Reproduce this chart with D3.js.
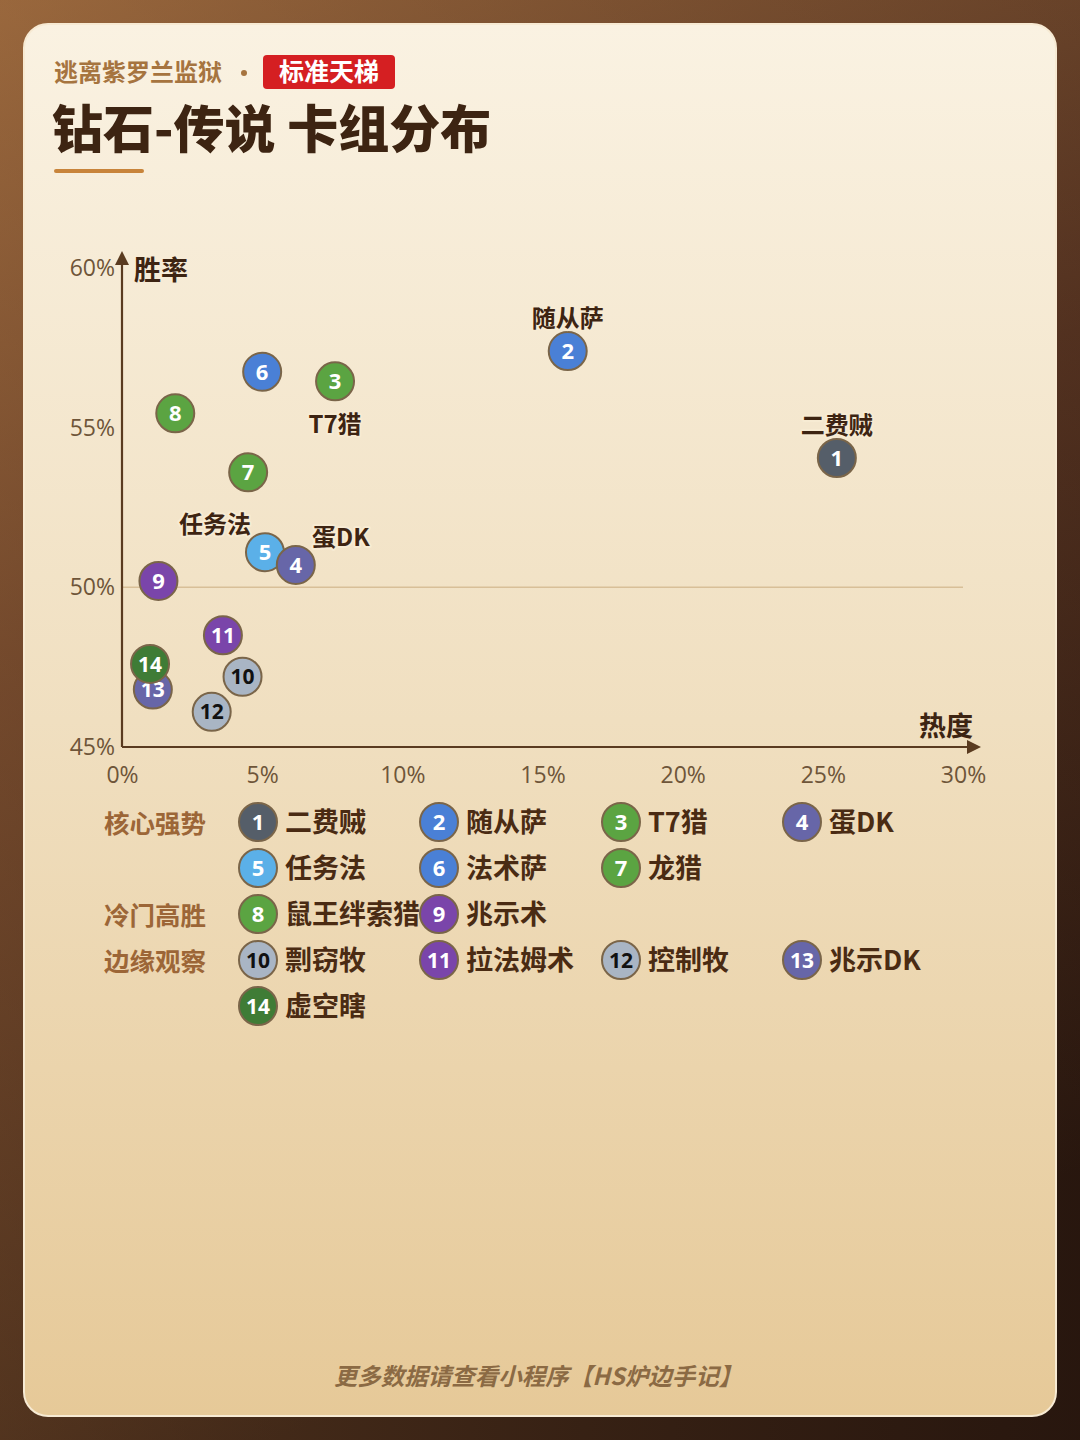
<!DOCTYPE html>
<html><head><meta charset="utf-8">
<script src="https://cdn.jsdelivr.net/npm/d3@7/dist/d3.min.js"></script>
<style>
html,body{margin:0;padding:0;background:#3a2416;}
svg{display:block;}
</style></head>
<body>
<div id="chart"></div>
<script>
// ---------- data ----------
const deckIds    = [1,2,3,4,5,6,7,8,9,10,11,12,13,14];
const deckNames  = ["二费贼","随从萨","T7猎","蛋DK","任务法","法术萨","龙猎","鼠王绊索猎","兆示术","剽窃牧","拉法姆术","控制牧","兆示DK","虚空瞎"];
const popularity = [25.5,15.9,7.6,6.2,5.1,5.0,4.5,1.9,1.3,4.3,3.6,3.2,1.1,1.0];   // 热度 %
const winRate    = [54.05,57.4,56.45,50.7,51.1,56.75,53.6,55.45,50.2,47.2,48.5,46.1,46.8,47.6]; // 胜率 %
const deckTier   = [0,0,0,0,0,0,0,1,1,2,2,2,2,2];
const tierLabels = ["核心强势","冷门高胜","边缘观察"];
const xTicks     = [0,5,10,15,20,25,30];
const yTicks     = [45,50,55,60];
const labeledIds = [1,2,3,4,5];
const labelSide  = ["top","top","bottom","topright","topleft"];

// ---------- styles ----------
const classColor = {
  1:"#555e69",2:"#4a80d6",3:"#5ba442",4:"#6766a8",5:"#5bb0e8",6:"#4a80d6",7:"#5ba442",
  8:"#5ba442",9:"#7a45aa",10:"#a9b5c4",11:"#7a45aa",12:"#a9b5c4",13:"#6766a8",14:"#3f7c36"
};
const darkText = new Set([10,12]);
const FONT = "'Noto Sans CJK SC','Noto Sans',sans-serif";
const NUMFONT = "'Open Sans','Noto Sans',sans-serif";

const W=1080,H=1440;
const svg = d3.select("#chart").append("svg").attr("width",W).attr("height",H);
const defs = svg.append("defs");

const bg = defs.append("linearGradient").attr("id","bg").attr("x1","0").attr("y1","0").attr("x2","0.25").attr("y2","1");
bg.append("stop").attr("offset","0").attr("stop-color","#96653c");
bg.append("stop").attr("offset","0.45").attr("stop-color","#5a3522");
bg.append("stop").attr("offset","1").attr("stop-color","#22120b");
const bg2 = defs.append("linearGradient").attr("id","bg2").attr("x1","0").attr("y1","0").attr("x2","1").attr("y2","0");
bg2.append("stop").attr("offset","0").attr("stop-color","#a06c3e").attr("stop-opacity",0.35);
bg2.append("stop").attr("offset","1").attr("stop-color","#3a2418").attr("stop-opacity",0.25);

const card = defs.append("linearGradient").attr("id","card").attr("x1","0").attr("y1","0").attr("x2","0").attr("y2","1");
card.append("stop").attr("offset","0").attr("stop-color","#faf2e2");
card.append("stop").attr("offset","0.5").attr("stop-color","#f0dfc0");
card.append("stop").attr("offset","1").attr("stop-color","#e6c998");

defs.append("marker").attr("id","arrow").attr("viewBox","0 0 10 10")
  .attr("refX",5).attr("refY",5).attr("markerWidth",14).attr("markerHeight",14)
  .attr("orient","auto").attr("markerUnits","userSpaceOnUse")
  .append("path").attr("d","M0,0 L10,5 L0,10 Z").attr("fill","#5a3b20");

svg.append("rect").attr("width",W).attr("height",H).attr("fill","url(#bg)");
svg.append("rect").attr("width",W).attr("height",H).attr("fill","url(#bg2)");
svg.append("rect").attr("x",24).attr("y",24).attr("width",1032).attr("height",1392).attr("rx",24)
  .attr("fill","url(#card)").attr("stroke","#f7ead3").attr("stroke-width",2);

// ---------- header ----------
svg.append("text").attr("x",54).attr("y",81).attr("font-family",FONT).attr("font-weight",700)
  .attr("font-size",24).attr("fill","#a6743f").text("逃离紫罗兰监狱");
svg.append("circle").attr("cx",244).attr("cy",73).attr("r",3).attr("fill","#a6743f");
svg.append("rect").attr("x",263).attr("y",55).attr("width",132).attr("height",34).attr("rx",4).attr("fill","#d51f22");
svg.append("text").attr("x",329).attr("y",81).attr("text-anchor","middle").attr("font-family",FONT)
  .attr("font-weight",700).attr("font-size",25).attr("fill","#ffffff").text("标准天梯");
svg.append("text").attr("x",52).attr("y",148).attr("font-family",FONT).attr("font-weight",900)
  .attr("font-size",51).attr("fill","#3d2412").text("钻石-传说 卡组分布");
svg.append("rect").attr("x",54).attr("y",169).attr("width",90).attr("height",4).attr("rx",2).attr("fill","#c8843a");

// ---------- scales ----------
const x = d3.scaleLinear().domain([0,30]).range([122,963]);
const y = d3.scaleLinear().domain([45,60]).range([747,268]);

// reference line at 50%
svg.append("line").attr("x1",x(0)).attr("x2",x(30)).attr("y1",y(50)).attr("y2",y(50))
  .attr("stroke","#d8bf98").attr("stroke-width",1.5);

// axes
const xAxis = d3.axisBottom(x).tickValues(xTicks).tickFormat(d=>d+"%").tickSize(0).tickPadding(20);
const gx = svg.append("g").attr("transform",`translate(0,${y(45)})`).call(xAxis);
gx.select(".domain").remove();
gx.selectAll("text").attr("font-family",NUMFONT).attr("font-size",23).attr("fill","#6e5539");

const yAxis = d3.axisLeft(y).tickValues(yTicks).tickFormat(d=>d+"%").tickSize(0).tickPadding(7);
const gy = svg.append("g").attr("transform",`translate(${x(0)},0)`).call(yAxis);
gy.select(".domain").remove();
gy.selectAll("text").attr("font-family",NUMFONT).attr("font-size",23).attr("fill","#6e5539");

svg.append("line").attr("x1",x(0)).attr("y1",y(45)).attr("x2",x(0)+852).attr("y2",y(45))
  .attr("stroke","#5a3b20").attr("stroke-width",2.2).attr("marker-end","url(#arrow)");
svg.append("line").attr("x1",x(0)).attr("y1",y(45)).attr("x2",x(0)).attr("y2",y(60)-10)
  .attr("stroke","#5a3b20").attr("stroke-width",2.2).attr("marker-end","url(#arrow)");

svg.append("text").attr("x",134).attr("y",280).attr("font-family",FONT).attr("font-weight",700)
  .attr("font-size",27).attr("fill","#3d2412").text("胜率");
svg.append("text").attr("x",973).attr("y",736).attr("text-anchor","end").attr("font-family",FONT).attr("font-weight",700)
  .attr("font-size",27).attr("fill","#3d2412").text("热度");

// ---------- points ----------
const pts = deckIds.map((id,i)=>({id,name:deckNames[i],px:popularity[i],wr:winRate[i]}));
const drawOrder = [1,2,3,6,8,7,5,4,9,11,10,12,13,14];
const R = 19;
const gp = svg.append("g");
drawOrder.forEach(id=>{
  const d = pts.find(p=>p.id===id);
  const g = gp.append("g").attr("transform",`translate(${x(d.px)},${y(d.wr)})`);
  g.append("circle").attr("r",R).attr("fill",classColor[id]).attr("stroke","#7a6549").attr("stroke-width",2);
  g.append("text").attr("text-anchor","middle").attr("dy","0.36em")
    .attr("font-family",NUMFONT).attr("font-weight",700).attr("font-size",id>=10?21:22)
    .attr("fill",darkText.has(id)?"#111111":"#ffffff").text(id);
});

// labels
const offs = {top:[0,-33],bottom:[0,43],topright:[45,-28],topleft:[-50,-28]};
labeledIds.forEach((id,k)=>{
  const d = pts.find(p=>p.id===id);
  const o = offs[labelSide[k]];
  svg.append("text").attr("x",x(d.px)+o[0]).attr("y",y(d.wr)+o[1]).attr("dy","0.36em")
    .attr("text-anchor","middle").attr("font-family",FONT).attr("font-weight",700).attr("font-size",24)
    .attr("fill","#3d2412").attr("stroke","#f7ebd3").attr("stroke-width",4).attr("paint-order","stroke")
    .attr("stroke-linejoin","round").text(d.name);
});

// ---------- legend ----------
const colX = [258,439,621,802];
const rowH = 46;
let rowY = 822;
const lg = svg.append("g");
tierLabels.forEach((lab,t)=>{
  const items = pts.filter((p,i)=>deckTier[i]===t);
  lg.append("text").attr("x",104).attr("y",rowY+2).attr("dy","0.36em").attr("font-family",FONT)
    .attr("font-weight",700).attr("font-size",25.5).attr("fill","#9c6637").text(lab);
  items.forEach((d,j)=>{
    const cx = colX[j%4], cy = rowY + Math.floor(j/4)*rowH;
    lg.append("circle").attr("cx",cx).attr("cy",cy).attr("r",R).attr("fill",classColor[d.id])
      .attr("stroke","#7a6549").attr("stroke-width",2);
    lg.append("text").attr("x",cx).attr("y",cy).attr("dy","0.36em").attr("text-anchor","middle")
      .attr("font-family",NUMFONT).attr("font-weight",700).attr("font-size",d.id>=10?21:22)
      .attr("fill",darkText.has(d.id)?"#111111":"#ffffff").text(d.id);
    lg.append("text").attr("x",cx+27).attr("y",cy).attr("dy","0.36em").attr("font-family",FONT)
      .attr("font-weight",700).attr("font-size",27).attr("fill","#4a2b13").text(d.name);
  });
  rowY += Math.ceil(items.length/4)*rowH;
});

// ---------- footer ----------
svg.append("text").attr("x",538).attr("y",1385).attr("text-anchor","middle").attr("font-family",FONT)
  .attr("font-weight",700).attr("font-style","italic").attr("font-size",23.5).attr("fill","#8b6a44")
  .text("更多数据请查看小程序【HS炉边手记】");
</script>
</body></html>
